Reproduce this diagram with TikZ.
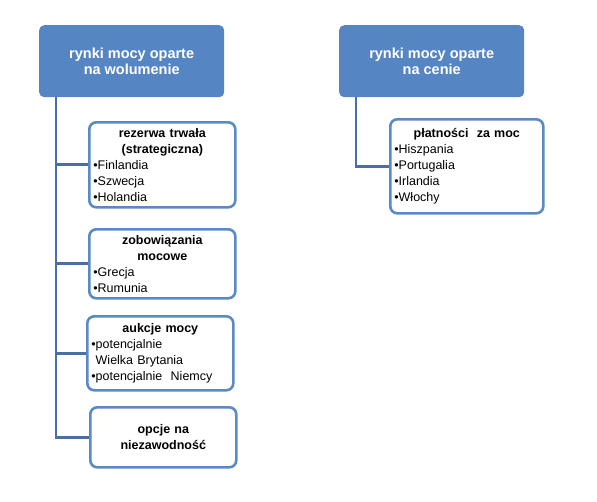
\documentclass[tikz,border=0pt]{standalone}
\usepackage{fontspec}
\setmainfont{Liberation Sans}
\usetikzlibrary{positioning}

\definecolor{headblue}{HTML}{5585C2}
\definecolor{boxblue}{HTML}{5A8AC6}
\definecolor{lineblue}{HTML}{4A6FA5}

\begin{document}
\begin{tikzpicture}[x=1pt, y=-1pt,
		header/.style={fill=headblue, draw=none, rounded corners=5pt, text=white, font=\bfseries\fontsize{14.5}{16}\selectfont, align=center, minimum width=185pt, minimum height=72pt, anchor=north west},
		item/.style={draw=boxblue, line width=2.6pt, fill=white, rounded corners=7pt, font=\fontsize{12.5}{16}\selectfont, text width=138pt, inner xsep=4pt, inner ysep=3pt, anchor=north west},
		trunk/.style={draw=lineblue, line width=2.8pt}]
	\useasboundingbox (0,0) rectangle (597,501);

	\node[header] (wolumen) at (39,25) {rynki mocy oparte\\na wolumenie};
	\node[header] (cena) at (339,25) {rynki mocy oparte\\na cenie};

	\coordinate (t1) at (56,97);
	\coordinate (t2) at (356,97);

	\node[item, minimum height=85pt] (rezerwa) at (88,121) {%
		{\centering\bfseries rezerwa trwała\\(strategiczna)\par}
		\raggedright •Finlandia\\•Szwecja\\•Holandia};
	\node[item, minimum height=69pt] (zobow) at (88,228) {%
		{\centering\bfseries zobowiązania\\mocowe\par}
		\raggedright •Grecja\\•Rumunia};
	\node[item, minimum height=74pt] (aukcje) at (86,315) {%
		{\centering\bfseries aukcje mocy\par}
		\raggedright •potencjalnie\\\phantom{•}Wielka Brytania\\•potencjalnie~ Niemcy};
	\node[item, minimum height=60pt, align=center, font=\bfseries\fontsize{12.5}{16}\selectfont] (opcje) at (89,406) {opcje na\\niezawodność};
	\node[item, text width=145pt, minimum height=94pt] (platnosci) at (389,118) {%
		{\centering\bfseries płatności~ za moc\par}
		\raggedright •Hiszpania\\•Portugalia\\•Irlandia\\•Włochy};

	% connectors
	\draw[trunk] (t1) |- (opcje.west);
	\draw[trunk] (t1 |- rezerwa.west) -- (rezerwa.west);
	\draw[trunk] (t1 |- zobow.west) -- (zobow.west);
	\draw[trunk] (t1 |- aukcje.west) -- (aukcje.west);
	\draw[trunk] (t2) |- (platnosci.west);
\end{tikzpicture}
\end{document}
